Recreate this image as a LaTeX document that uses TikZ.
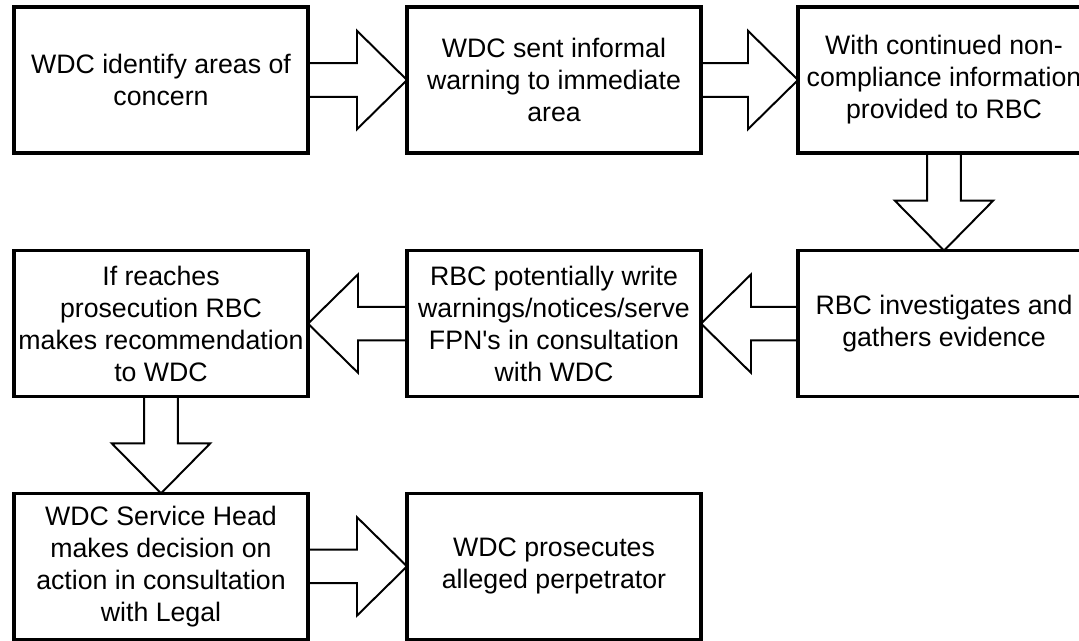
\documentclass[tikz,border=0pt]{standalone}
\usepackage{fontspec}
\setmainfont{Liberation Sans}
\usetikzlibrary{calc}

\newcommand{\flowarrow}[2]{%
  \coordinate (tail) at (#1);
  \coordinate (head) at (#2);
  \coordinate (base) at ($(head)!1.25cm!(tail)$);
  \draw[hollow] ($(tail)!0.42cm!90:(head)$) -- ($(base)!0.42cm!90:(head)$) -- ($(base)!1.23cm!90:(head)$)
    -- (head) -- ($(base)!1.23cm!-90:(head)$) -- ($(base)!0.42cm!-90:(head)$) -- ($(tail)!0.42cm!-90:(head)$);
}

\begin{document}
\begin{tikzpicture}[
      stage/.style={rectangle, draw=black, line width=2.2pt, minimum width=7.35cm, minimum height=3.65cm,
          inner xsep=2pt, outer sep=0pt, align=center, font=\fontsize{19}{22.8}\selectfont},
      hollow/.style={draw=black, line width=1.4pt, line join=miter}
    ]
    \clip (0,0) rectangle (26.975,-16.025);

    \node[stage] (identify) at (4.025,-2.0) {WDC identify areas of\\concern};
    \node[stage] (warning) at (13.85,-2.0) {WDC sent informal\\warning to immediate\\area};
    \node[stage, minimum width=7.3cm] (inform) at (23.6,-2.0) {With continued non-\\compliance information\\provided to RBC};
    \node[stage] (recommend) at (4.025,-8.09) {If reaches\\prosecution RBC\\makes recommendation\\to WDC};
    \node[stage] (write) at (13.85,-8.09) {RBC potentially write\\warnings/notices/serve\\FPN\textquotesingle s in consultation\\with WDC};
    \node[stage, minimum width=7.3cm] (investigate) at (23.6,-8.09) {RBC investigates and\\gathers evidence};
    \node[stage] (decide) at (4.025,-14.16) {WDC Service Head\\makes decision on\\action in consultation\\with Legal};
    \node[stage] (prosecute) at (13.85,-14.16) {WDC prosecutes\\alleged perpetrator};

    \flowarrow{identify.east}{warning.west}
    \flowarrow{warning.east}{inform.west}
    \flowarrow{inform.south}{investigate.north}
    \flowarrow{investigate.west}{write.east}
    \flowarrow{write.west}{recommend.east}
    \flowarrow{recommend.south}{decide.north}
    \flowarrow{decide.east}{prosecute.west}
  \end{tikzpicture}
\end{document}
